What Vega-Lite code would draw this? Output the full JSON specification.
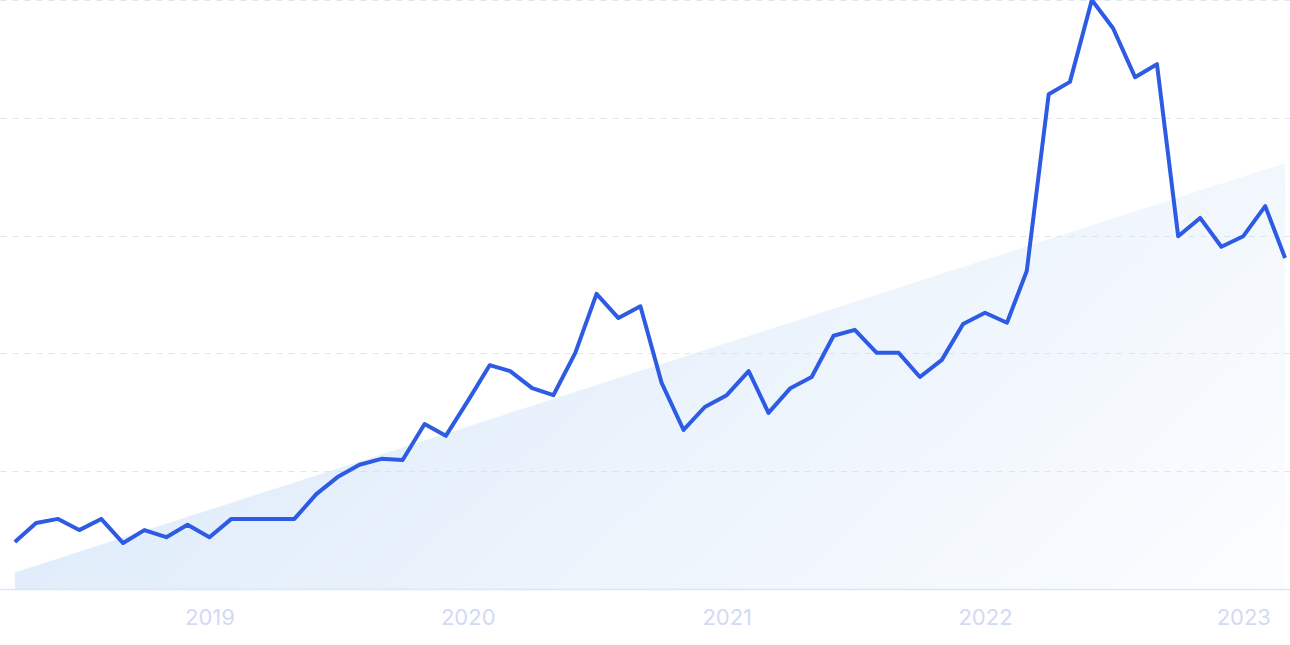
{
  "$schema": "https://vega.github.io/schema/vega-lite/v6.json",
  "width": 1290,
  "height": 589,
  "autosize": {"type": "none"},
  "padding": {"left": 0, "right": 0, "top": 0, "bottom": 56},
  "background": "#ffffff",
  "config": {"view": {"stroke": null}, "font": "Inter"},
  "datasets": {
    "interest": [
      {"date": "2018-04-01", "value": 8.0},
      {"date": "2018-05-01", "value": 11.2},
      {"date": "2018-06-01", "value": 11.9},
      {"date": "2018-07-01", "value": 10.0},
      {"date": "2018-08-01", "value": 11.9},
      {"date": "2018-09-01", "value": 7.8},
      {"date": "2018-10-01", "value": 10.0},
      {"date": "2018-11-01", "value": 8.8},
      {"date": "2018-12-01", "value": 10.9},
      {"date": "2019-01-01", "value": 8.8},
      {"date": "2019-02-01", "value": 11.9},
      {"date": "2019-03-01", "value": 11.9},
      {"date": "2019-04-01", "value": 11.9},
      {"date": "2019-05-01", "value": 11.9},
      {"date": "2019-06-01", "value": 16.1},
      {"date": "2019-07-01", "value": 19.0},
      {"date": "2019-08-01", "value": 21.1},
      {"date": "2019-09-01", "value": 22.1},
      {"date": "2019-10-01", "value": 21.9},
      {"date": "2019-11-01", "value": 28.0},
      {"date": "2019-12-01", "value": 26.0},
      {"date": "2020-01-01", "value": 31.9},
      {"date": "2020-02-01", "value": 38.0},
      {"date": "2020-03-01", "value": 37.0},
      {"date": "2020-04-01", "value": 34.1},
      {"date": "2020-05-01", "value": 32.9},
      {"date": "2020-06-01", "value": 40.1},
      {"date": "2020-07-01", "value": 50.1},
      {"date": "2020-08-01", "value": 46.0},
      {"date": "2020-09-01", "value": 48.0},
      {"date": "2020-10-01", "value": 35.0},
      {"date": "2020-11-01", "value": 27.0},
      {"date": "2020-12-01", "value": 30.9},
      {"date": "2021-01-01", "value": 32.9},
      {"date": "2021-02-01", "value": 37.0},
      {"date": "2021-03-01", "value": 29.9},
      {"date": "2021-04-01", "value": 34.1},
      {"date": "2021-05-01", "value": 36.0},
      {"date": "2021-06-01", "value": 43.0},
      {"date": "2021-07-01", "value": 44.0},
      {"date": "2021-08-01", "value": 40.1},
      {"date": "2021-09-01", "value": 40.1},
      {"date": "2021-10-01", "value": 36.0},
      {"date": "2021-11-01", "value": 38.9},
      {"date": "2021-12-01", "value": 45.0},
      {"date": "2022-01-01", "value": 46.9},
      {"date": "2022-02-01", "value": 45.2},
      {"date": "2022-03-01", "value": 54.0},
      {"date": "2022-04-01", "value": 84.0},
      {"date": "2022-05-01", "value": 86.1},
      {"date": "2022-06-01", "value": 100.0},
      {"date": "2022-07-01", "value": 95.2},
      {"date": "2022-08-01", "value": 86.9},
      {"date": "2022-09-01", "value": 89.1},
      {"date": "2022-10-01", "value": 59.9},
      {"date": "2022-11-01", "value": 63.0},
      {"date": "2022-12-01", "value": 58.1},
      {"date": "2023-01-01", "value": 59.9},
      {"date": "2023-02-01", "value": 65.0},
      {"date": "2023-03-01", "value": 56.2}
    ],
    "trend": [
      {"date": "2018-04-01", "value": 2.8},
      {"date": "2023-03-01", "value": 72.3}
    ]
  },
  "encoding": {
    "x": {
      "field": "date",
      "type": "temporal",
      "scale": {
        "type": "utc",
        "domain": [
          {"year": 2018, "month": 3, "date": 11, "utc": true},
          {"year": 2023, "month": 3, "date": 8, "utc": true}
        ]
      },
      "axis": {
        "values": [
          {"year": 2019, "month": 1, "date": 1, "utc": true},
          {"year": 2020, "month": 1, "date": 1, "utc": true},
          {"year": 2021, "month": 1, "date": 1, "utc": true},
          {"year": 2022, "month": 1, "date": 1, "utc": true},
          {"year": 2023, "month": 1, "date": 1, "utc": true}
        ],
        "format": "%Y",
        "formatType": "utc",
        "title": null,
        "grid": false,
        "ticks": false,
        "domain": true,
        "domainColor": "#dce6f8",
        "domainWidth": 1.5,
        "labelColor": "#d0dbf5",
        "labelFontSize": 22,
        "labelFont": "Inter",
        "labelPadding": 18
      }
    },
    "y": {
      "field": "value",
      "type": "quantitative",
      "scale": {"domain": [0, 100], "nice": false, "zero": true},
      "axis": {
        "values": [20, 40, 60, 80, 100],
        "title": null,
        "labels": false,
        "ticks": false,
        "domain": false,
        "grid": true,
        "gridColor": "#dfe6f2",
        "gridDash": [6, 6],
        "gridWidth": 1
      }
    }
  },
  "layer": [
    {
      "data": {"name": "trend"},
      "mark": {
        "type": "area",
        "fill": {
          "gradient": "linear",
          "x1": 0, "y1": 0, "x2": 1.3, "y2": 0.47,
          "stops": [
            {"offset": 0, "color": "rgba(200,222,247,0.72)"},
            {"offset": 1, "color": "rgba(200,222,247,0.0)"}
          ]
        }
      }
    },
    {
      "data": {"name": "interest"},
      "mark": {
        "type": "line",
        "color": "#2d5be3",
        "strokeWidth": 4,
        "strokeJoin": "round"
      }
    }
  ]
}
